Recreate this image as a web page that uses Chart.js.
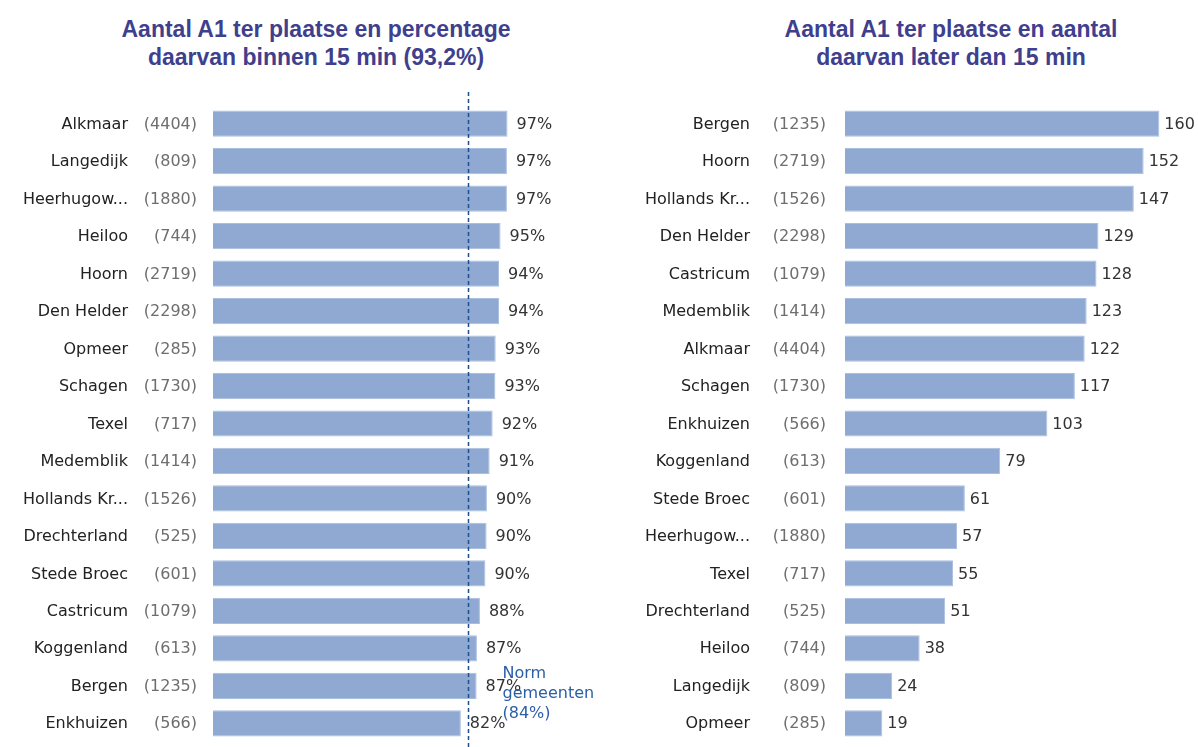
<!DOCTYPE html>
<html>
<head>
<meta charset="utf-8">
<script src="https://cdn.jsdelivr.net/npm/chart.js@4.4.1/dist/chart.umd.min.js"></script>
<style>
  body { margin: 0; background: #fff; width: 1198px; height: 747px; position: relative; overflow: hidden; }
  .title { position: absolute; top: 15px; font: bold 23px "Liberation Sans", Arial, sans-serif; color: #403f8e; text-align: center; line-height: 28px; white-space: nowrap; }
  canvas { position: absolute; top: 0; }
</style>
</head>
<body>
<div class="title" style="left:116px;width:400px;">Aantal A1 ter plaatse en percentage<br>daarvan binnen 15 min (93,2%)</div>
<div class="title" style="left:751px;width:400px;">Aantal A1 ter plaatse en aantal<br>daarvan later dan 15 min</div>
<canvas id="pctChart" width="600" height="747" style="left:0"></canvas>
<canvas id="lateChart" width="598" height="747" style="left:600px"></canvas>
<script>
// left panel: share within 15 min
const pctNames = ["Alkmaar", "Langedijk", "Heerhugow...", "Heiloo", "Hoorn", "Den Helder", "Opmeer", "Schagen", "Texel", "Medemblik", "Hollands Kr...", "Drechterland", "Stede Broec", "Castricum", "Koggenland", "Bergen", "Enkhuizen"];
const pctCounts = [4404, 809, 1880, 744, 2719, 2298, 285, 1730, 717, 1414, 1526, 525, 601, 1079, 613, 1235, 566];
const pctValues = [97.2, 97.0, 97.0, 94.9, 94.4, 94.4, 93.3, 93.2, 92.3, 91.3, 90.4, 90.3, 89.9, 88.1, 87.1, 87.0, 81.8];
const pctLabels = ["97%", "97%", "97%", "95%", "94%", "94%", "93%", "93%", "92%", "91%", "90%", "90%", "90%", "88%", "87%", "87%", "82%"];
const normValue = 84;
const normText = ["Norm", "gemeenten", "(84%)"];

// right panel: number later than 15 min
const lateNames = ["Bergen", "Hoorn", "Hollands Kr...", "Den Helder", "Castricum", "Medemblik", "Alkmaar", "Schagen", "Enkhuizen", "Koggenland", "Stede Broec", "Heerhugow...", "Texel", "Drechterland", "Heiloo", "Langedijk", "Opmeer"];
const lateCounts = [1235, 2719, 1526, 2298, 1079, 1414, 4404, 1730, 566, 613, 601, 1880, 717, 525, 744, 809, 285];
const lateValues = [160, 152, 147, 129, 128, 123, 122, 117, 103, 79, 61, 57, 55, 51, 38, 24, 19];

const labelFont = '16px "DejaVu Sans", Verdana, sans-serif';
const barColor = '#8fa9d2';

// draws name, (count), the value at the end of each bar and the norm line
const extrasPlugin = {
    id: 'extras',
    afterDatasetsDraw(chart, args, opts) {
        const c = chart.ctx;
        const y = chart.scales.y;
        const x = chart.scales.x;
        const meta = chart.getDatasetMeta(0);
        const left = chart.chartArea.left;
        c.save();
        c.font = labelFont;
        c.textBaseline = 'middle';
        chart.data.labels.forEach((name, i) => {
            const py = y.getPixelForValue(i) + 1;
            c.textAlign = 'right';
            c.fillStyle = '#222';
            c.fillText(name, left - opts.nameGap, py);
            c.fillStyle = '#6e6e6e';
            c.fillText('(' + opts.counts[i] + ')', left - opts.countGap, py);
            c.fillStyle = '#333';
            c.textAlign = 'left';
            c.fillText(opts.labels[i], meta.data[i].x + opts.valueGap, py);
        });
        if (opts.norm != null) {
            const nx = Math.round(x.getPixelForValue(opts.norm)) + 0.5;
            c.strokeStyle = '#1f4e8c';
            c.lineWidth = 1.5;
            c.setLineDash([4, 3]);
            c.beginPath();
            c.moveTo(nx, 92);
            c.lineTo(nx, chart.height);
            c.stroke();
            c.setLineDash([]);
            c.fillStyle = '#2a5fa8';
            c.font = '16px "DejaVu Sans", Verdana, sans-serif';
            c.textAlign = 'left';
            opts.normText.forEach((t, k) => c.fillText(t, nx + 34, 674 + k * 20));
        }
        c.restore();
    }
};

function makeChart(id, names, values, counts, labels, xMax, leftWidth, nameGap, rightPad, countGap, valueGap, norm) {
    return new Chart(document.getElementById(id), {
        type: 'bar',
        data: {
            labels: names,
            datasets: [{
                data: values,
                backgroundColor: barColor,
                borderColor: '#a9bfe0',
                borderWidth: 1,
                barPercentage: 0.7,
                categoryPercentage: 1
            }]
        },
        options: {
            indexAxis: 'y',
            responsive: false,
            animation: false,
            devicePixelRatio: 1,
            layout: { padding: { top: 105, bottom: 5, left: 0, right: rightPad } },
            plugins: {
                legend: { display: false },
                tooltip: { enabled: false },
                extras: { counts: counts, labels: labels, nameGap: nameGap, countGap: countGap, valueGap: valueGap, norm: norm, normText: normText }
            },
            scales: {
                x: { min: 0, max: xMax, display: false },
                y: {
                    grid: { display: false, drawTicks: false },
                    border: { display: false },
                    ticks: { display: false, autoSkip: false },
                    afterFit(scale) { scale.width = leftWidth; }
                }
            }
        },
        plugins: [extrasPlugin]
    });
}

makeChart('pctChart', pctNames, pctValues, pctCounts, pctLabels, 100, 213, 85, 84, 16, 9, normValue);
makeChart('lateChart', lateNames, lateValues, lateCounts, lateValues.map(String), 170, 245, 95, 19, 19, 5, null);
</script>
</body>
</html>
